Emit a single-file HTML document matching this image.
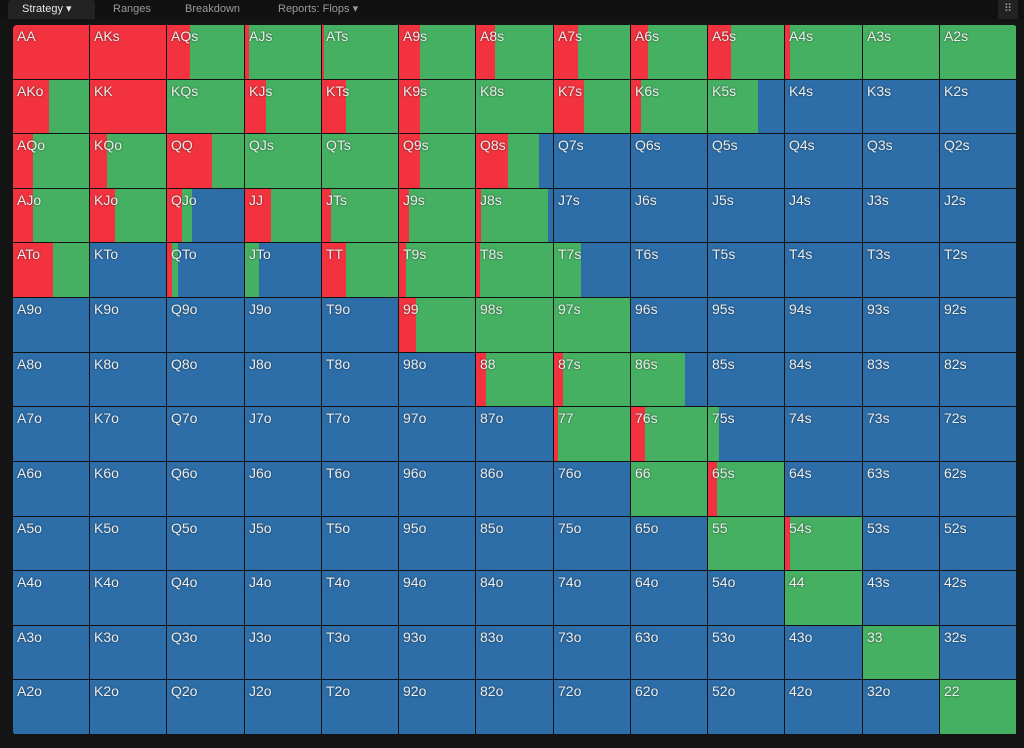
<!DOCTYPE html>
<html><head><meta charset="utf-8"><style>
body{margin:0;width:1024px;height:748px;background:#141414;font-family:"Liberation Sans",sans-serif;overflow:hidden;position:relative}
#tabs{position:absolute;left:0;top:0;width:1024px;height:19px;background:#111}
.tab{position:absolute;top:0;height:19px;line-height:18px;font-size:11px;color:#9a9a9a}
.tab.active{background:#232323;color:#e6e6e6;border-radius:3px 3px 0 0}
#grid{position:absolute;left:13px;top:25px;width:1004px;height:710px;background:#111;border-radius:4px;overflow:hidden}
.cell{position:absolute;overflow:hidden;display:flex}
.seg{height:100%}
.lbl{position:absolute;left:4px;top:3px;font-size:14px;color:#eee;text-shadow:0 0 2px rgba(0,0,0,.6)}
</style></head><body>
<div id="tabs">
<div class="tab active" style="left:8px;width:87px;padding-left:14px;box-sizing:border-box">Strategy ▾</div>
<div class="tab" style="left:113px">Ranges</div>
<div class="tab" style="left:185px">Breakdown</div>
<div class="tab" style="left:278px">Reports: Flops ▾</div>
<div class="tab" style="left:998px;width:20px;background:#222;text-align:center">⠿</div>
</div>
<div id="grid"></div>
<script>
const ranks=["A","K","Q","J","T","9","8","7","6","5","4","3","2"];
// red (raise) fraction per cell, row-major
const redFrac=[
[1,1,.3,.05,.02,.28,.25,.32,.22,.3,.06,0,0],
[.47,1,0,.27,.31,.28,0,.39,.13,0,0,0,0],
[.26,.23,.58,0,0,.28,.41,0,0,0,0,0,0],
[.26,.33,.2,.34,.12,.13,.06,0,0,0,0,0,0],
[.53,0,.06,0,.31,.09,.05,0,0,0,0,0,0],
[0,0,0,0,0,.22,0,0,0,0,0,0,0],
[0,0,0,0,0,0,.13,.12,0,0,0,0,0],
[0,0,0,0,0,0,0,.05,.19,0,0,0,0],
[0,0,0,0,0,0,0,0,0,.12,0,0,0],
[0,0,0,0,0,0,0,0,0,0,.06,0,0],
[0,0,0,0,0,0,0,0,0,0,0,0,0],
[0,0,0,0,0,0,0,0,0,0,0,0,0],
[0,0,0,0,0,0,0,0,0,0,0,0,0]];
// green (call) fraction per cell
const greenFrac=[
[0,0,.7,.95,.98,.72,.75,.68,.78,.7,.94,1,1],
[.53,0,1,.73,.69,.72,1,.61,.87,.66,0,0,0],
[.74,.77,.42,1,1,.72,.41,0,0,0,0,0,0],
[.74,.67,.12,.66,.88,.87,.87,0,0,0,0,0,0],
[.47,0,.08,.18,.69,.91,.95,.35,0,0,0,0,0],
[0,0,0,0,0,.78,1,1,0,0,0,0,0],
[0,0,0,0,0,0,.87,.88,.71,0,0,0,0],
[0,0,0,0,0,0,0,.95,.81,.15,0,0,0],
[0,0,0,0,0,0,0,0,1,.88,0,0,0],
[0,0,0,0,0,0,0,0,0,1,.94,0,0],
[0,0,0,0,0,0,0,0,0,0,1,0,0],
[0,0,0,0,0,0,0,0,0,0,0,1,0],
[0,0,0,0,0,0,0,0,0,0,0,0,1]];
const W=1004,H=710,n=13,cw=W/n,ch=H/n;
const g=document.getElementById('grid');
for(let r=0;r<n;r++)for(let c=0;c<n;c++){
  const name=r===c?ranks[r]+ranks[c]:(c>r?ranks[r]+ranks[c]+'s':ranks[c]+ranks[r]+'o');
  const d=document.createElement('div');d.className='cell';
  
  
  const x0=Math.round(c*cw),x1=Math.round((c+1)*cw),y0=Math.round(r*ch),y1=Math.round((r+1)*ch);
  d.style.cssText+=`left:${x0}px;top:${y0}px;width:${x1-x0-1}px;height:${y1-y0-1}px`;
  const rf=redFrac[r][c],gf=greenFrac[r][c],bf=Math.max(0,1-rf-gf);
  [[rf,'#f2333f','raise'],[gf,'#46b062','call'],[bf,'#2d6ea8','fold']].forEach(([f,col,k])=>{
    if(f<=0)return;const s=document.createElement('div');s.className='seg';
    
    
    s.style.width=(f*100)+'%';s.style.background=col;d.appendChild(s);
  });
  const l=document.createElement('div');l.className='lbl';l.textContent=name;
  
  
  d.appendChild(l);g.appendChild(d);
}
</script>
</body></html>
